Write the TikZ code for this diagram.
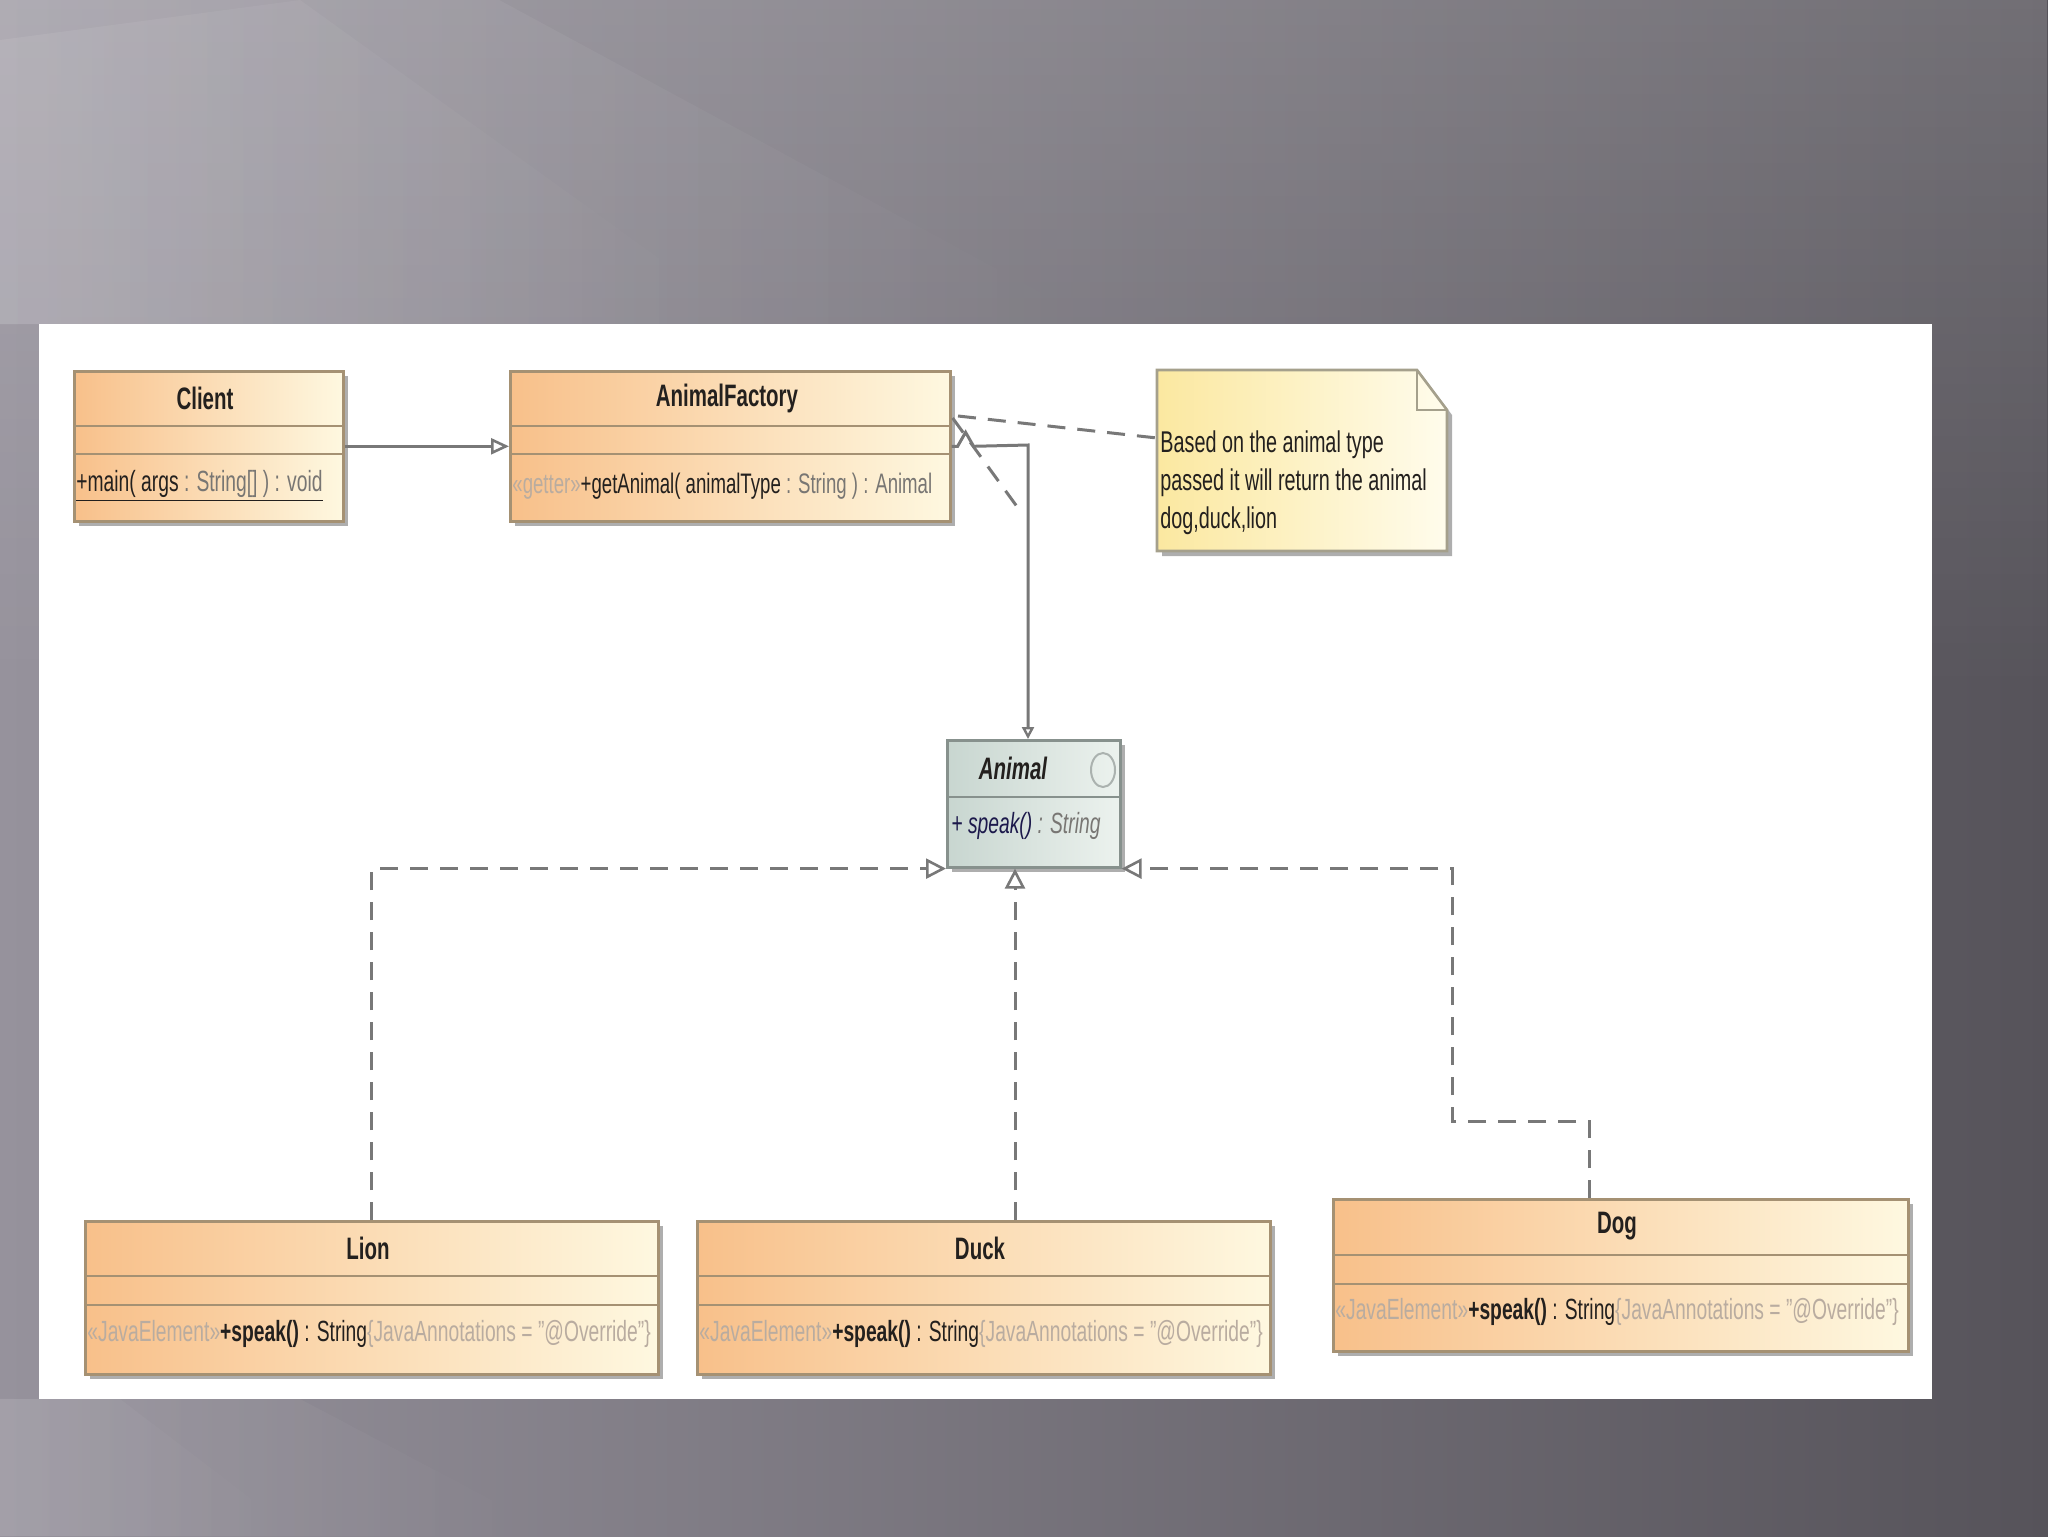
\documentclass[tikz,border=0pt]{standalone}
\usepackage{fontspec}
\setmainfont{Liberation Sans}[FakeStretch=0.66]
\usetikzlibrary{arrows.meta,shadows,calc,fadings}
\definecolor{bgL}{RGB}{150,146,156}
\definecolor{bgR}{RGB}{86,83,90}
\definecolor{clsL}{RGB}{248,192,138}
\definecolor{clsR}{RGB}{254,248,224}
\definecolor{clsB}{RGB}{165,145,115}
\definecolor{intL}{RGB}{200,214,208}
\definecolor{intR}{RGB}{236,242,238}
\definecolor{intB}{RGB}{135,145,141}
\definecolor{noteL}{RGB}{251,232,160}
\definecolor{noteR}{RGB}{255,252,236}
\definecolor{noteB}{RGB}{165,160,140}
\definecolor{txtD}{RGB}{35,32,30}
\definecolor{txtG}{RGB}{120,118,115}
\definecolor{txtS}{RGB}{185,172,160}
\definecolor{lnk}{RGB}{120,120,120}
\begin{document}
\begin{tikzpicture}[x=0.5pt,y=-0.5pt,
  classbox/.style={draw=clsB, line width=1.3pt, left color=clsL, right color=clsR,
    inner sep=0, anchor=north west,
    drop shadow={shadow xshift=2.5pt, shadow yshift=-2.5pt, opacity=0.45, fill=black!70}},
  ifacebox/.style={classbox, draw=intB, left color=intL, right color=intR},
  sepline/.style={draw=clsB, line width=1.3pt},
  isepline/.style={draw=intB, line width=1.3pt},
  clsname/.style={inner sep=0, text=txtD, font=\fontsize{15.5}{18}\selectfont\bfseries},
  meth/.style={inner sep=0, anchor=west, text=txtD, font=\fontsize{14.6}{17}\selectfont},
  assoc/.style={draw=lnk, line width=1.5pt,
    -{Triangle[open, length=9pt, width=8pt, fill=white, line width=1.3pt]}},
  real/.style={draw=lnk, line width=1.5pt, dash pattern=on 9pt off 6pt,
    -{Triangle[open, length=10pt, width=10pt, fill=white, line width=1.3pt]}},
  notelink/.style={draw=lnk, line width=1.5pt, dash pattern=on 9pt off 6pt}
]
\useasboundingbox (0,0) rectangle (2048,1536);
% background
\shade[left color=bgL, right color=bgR] (0,0) rectangle (2048,1536);
\fill[white, opacity=0.16, path fading=south] (0,0) rectangle (2048,700);
\fill[white, opacity=0.10, path fading=east] (0,0) -- (500,0) -- (1100,324) -- (0,324) -- cycle;
\fill[white, opacity=0.08, path fading=east] (0,40) -- (300,0) -- (750,324) -- (0,324) -- cycle;
\fill[white, opacity=0.08, path fading=east] (0,1399) -- (300,1399) -- (560,1536) -- (0,1536) -- cycle;
\fill[white, opacity=0.06, path fading=east] (0,1399) -- (120,1399) -- (300,1536) -- (0,1536) -- cycle;
% panel
\fill[white] (39,324) rectangle (1932,1399);

% Client
\node[classbox, minimum width=134.5pt, minimum height=75pt] (client) at (73,370) {};
\draw[sepline] (73,426) -- (342,426);
\draw[sepline] (73,454) -- (342,454);
\node[clsname] (clientname) at (205,398) {Client};
\node[meth] (clientm) at (76,486) {\underline{+main( args {\color{txtG}: String[] ) : void}}};

% AnimalFactory
\node[classbox, minimum width=220pt, minimum height=75pt] (af) at (509,370) {};
\draw[sepline] (509,426) -- (949,426);
\draw[sepline] (509,454) -- (949,454);
\node[clsname] (afname) at (727,398) {AnimalFactory};
\node[meth, font=\fontsize{14.1}{17}\selectfont] (afm) at (512,486) {{\color{txtS}«getter»}+getAnimal( animalType {\color{txtG}: String ) : Animal}};

% Note
\node[inner sep=0, minimum width=145pt, minimum height=90.5pt, anchor=north west] (note) at (1157,370) {};
\path[left color=noteL, right color=noteR, draw=noteB, line width=1.3pt,
  drop shadow={shadow xshift=2.5pt, shadow yshift=-2.5pt, opacity=0.45, fill=black!70}]
  (1157,370) -- (1417,370) -- (1447,410) -- (1447,551) -- (1157,551) -- cycle;
\draw[draw=noteB, line width=1.3pt] (1417,370) -- (1417,410) -- (1447,410);
\node[inner sep=0, anchor=north west, align=left, text=txtD,
  font=\fontsize{15}{19}\selectfont] (notetxt) at (1160,430)
  {Based on the animal type\\passed it will return the animal\\dog,duck,lion};

% Animal interface
\node[ifacebox, minimum width=86.5pt, minimum height=63.5pt] (animal) at (946,739) {};
\draw[isepline] (946,797) -- (1119,797);
\node[clsname, font=\fontsize{15.5}{18}\selectfont\bfseries\itshape] (animalname) at (1013,768) {Animal};
\draw[draw=intB!70, line width=1pt] (1103,770) ellipse [x radius=12, y radius=17];
\node[meth, font=\fontsize{14.6}{17}\selectfont\itshape, text=txtD!80!blue] (animalm) at (951,826) {+ speak() {\color{txtG}: String}};

% Lion
\node[classbox, minimum width=286.5pt, minimum height=76.5pt] (lion) at (84,1220) {};
\draw[sepline] (84,1276) -- (657,1276);
\draw[sepline] (84,1305) -- (657,1305);
\node[clsname] (lionname) at (368,1248) {Lion};
\node[meth] (lionm) at (87,1334) {{\color{txtS}«JavaElement»}\textbf{+speak()} : String{\color{txtS}\{JavaAnnotations = "@Override"\}}};

% Duck
\node[classbox, minimum width=286.5pt, minimum height=76.5pt] (duck) at (696,1220) {};
\draw[sepline] (696,1276) -- (1269,1276);
\draw[sepline] (696,1305) -- (1269,1305);
\node[clsname] (duckname) at (980,1248) {Duck};
\node[meth] (duckm) at (699,1334) {{\color{txtS}«JavaElement»}\textbf{+speak()} : String{\color{txtS}\{JavaAnnotations = "@Override"\}}};

% Dog
\node[classbox, minimum width=287.5pt, minimum height=76pt] (dog) at (1332,1198) {};
\draw[sepline] (1332,1255) -- (1907,1255);
\draw[sepline] (1332,1284) -- (1907,1284);
\node[clsname] (dogname) at (1617,1226) {Dog};
\node[meth] (dogm) at (1335,1312) {{\color{txtS}«JavaElement»}\textbf{+speak()} : String{\color{txtS}\{JavaAnnotations = "@Override"\}}};

% connectors
\draw[assoc] (client.east) -- (af.west);
\coordinate (bend) at (1028,445);
\draw[assoc, -{Triangle[open, length=6pt, width=6pt, fill=white, line width=1.2pt]}]
  (af.east) -- ++(6,0) -- ++(8,-14) -- ++(8,14) -- (bend) -- (bend |- animal.north);
\coordinate (nl1) at (958,416);
\coordinate (nl2) at ($(note.north west)+(0,68)$);
\draw[notelink] (nl1) -- (nl2);
\coordinate (dg1) at ($(af.north east)+(1,48)$);
\coordinate (dg2) at (1018,508);
\draw[notelink] (dg1) -- (dg2);

\draw[real] (lion.north) |- (animal.south west);
\coordinate (duckc) at ($(duck.north west)+(319,0)$);
\draw[real] (duckc) -- (duckc |- animal.south);
\coordinate (dogc) at ($(dog.north west)+(257,0)$);
\coordinate (dogk) at (1452,1121);
\draw[real] (dogc) |- (dogk) |- (animal.south east);
\end{tikzpicture}
\end{document}
